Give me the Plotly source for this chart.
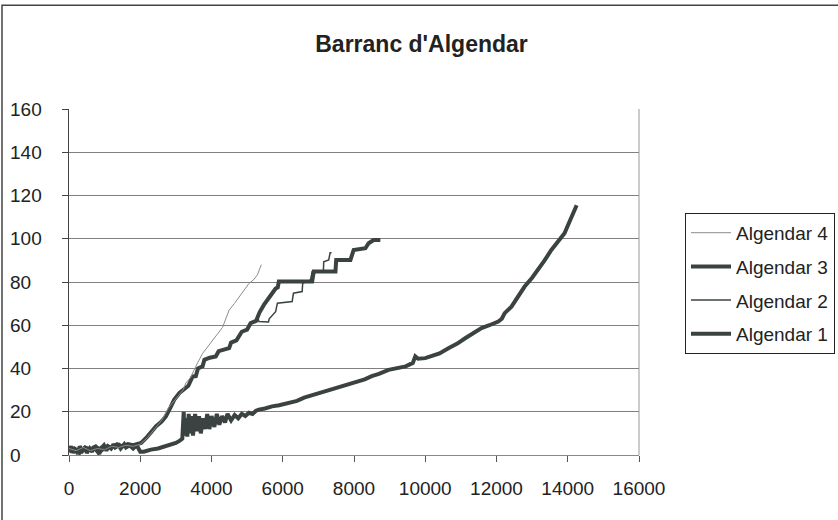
import plotly.graph_objects as go

# ---- data ----
a1_x = [0, 60, 120, 180, 250, 300, 380, 450, 500, 580, 650, 700, 780, 850, 900, 980, 1050, 1100, 1180, 1250,
        1300, 1400, 1450, 1550, 1600, 1700, 1800, 1900, 1950, 2000, 2100, 2300, 2500, 2700, 2900, 3000, 3100, 3180,
        3220, 3240, 3280, 3320, 3360, 3400, 3440, 3480, 3540, 3600, 3650, 3700, 3760, 3820, 3880, 3940, 4000,
        4080, 4150, 4220, 4300, 4380, 4450, 4550, 4650, 4750, 4850, 4950, 5050, 5150, 5250, 5330, 5500, 5700,
        5900, 6170, 6400, 6600, 6800, 7100, 7300, 7600, 7800, 8040, 8300, 8500, 8700, 8970, 9250, 9450, 9580,
        9650, 9720, 9800, 10000, 10180, 10400, 10650, 10900, 11120, 11350, 11580, 11800, 12050, 12150, 12230,
        12420, 12600, 12790, 13000, 13170, 13350, 13540, 13700, 13910, 14000, 14100, 14200, 14250]
a1_y = [2, 4, 1, 3, 0.5, 4, 2, 3.5, 1, 3, 1.5, 4, 2, 0.5, 3, 4.5, 2, 4, 3, 5,
        3.5, 4.5, 3, 5, 3.5, 4.5, 3, 4.5, 3, 1.5, 1.5, 2.5, 3, 4, 5, 5.6, 6.5, 7.5,
        20, 9, 17, 8.5, 19, 10, 18, 9, 19, 11, 18, 10, 17, 12, 19, 12, 18,
        13, 19, 14, 18, 15, 19, 16, 18.5, 17, 19, 18, 19.5, 19, 20.5, 21, 21.5, 22.5,
        23, 24, 25, 26.5, 27.5, 29, 30, 31.5, 32.5, 33.5, 35, 36.5, 37.5, 39.4, 40.2, 41, 42,
        42.5, 45.6, 44.5, 44.8, 45.6, 47, 49.4, 51.5, 54, 56.5, 58.7, 60, 61.7, 63, 65.6,
        68.6, 73, 77.9, 82, 85.6, 90, 94.8, 98, 102.5, 106, 110.1, 113.5, 115.5]

a2_x = [0, 150, 300, 450, 600, 750, 900, 1050, 1200, 1350, 1500, 1650, 1800, 1950, 2025, 2200, 2445, 2600,
        2720, 2850, 2950, 3100, 3250, 3350, 3470, 3560, 3620, 3750, 3800, 3950, 4120, 4200, 4495, 4550, 4700,
        4775, 4850, 5000, 5055, 5100, 5250, 5300, 5330, 5600, 5620, 5800, 5850, 6265, 6300, 6545, 6560, 6780,
        6825, 7140, 7150, 7290, 7330, 7370]
a2_y = [2.5, 1.5, 3, 2, 3.5, 2, 4, 3, 4, 4.5, 3.5, 5, 4, 5, 5.6, 8.5, 13.3, 15.5,
        17.9, 22, 25.5, 28.7, 30.5, 32, 36.3, 36.5, 40, 41, 44, 45, 45.6, 48, 49.4, 52, 53,
        54.8, 57, 58, 59.4, 61, 62, 64, 61.7, 61.5, 63, 66.3, 70.2, 71, 74.8, 75.6, 79.4, 81,
        84.8, 85, 89.4, 90.2, 93.5, 93.5]

a3_x = [0, 150, 300, 450, 600, 750, 900, 1050, 1200, 1350, 1500, 1650, 1800, 1950, 2025, 2200, 2445, 2600,
        2720, 2850, 2950, 3100, 3250, 3350, 3470, 3560, 3620, 3750, 3800, 3950, 4120, 4200, 4495, 4550, 4700,
        4775, 4850, 5000, 5055, 5100, 5250, 5290, 5350, 5470, 5550, 5705, 5800, 5860, 5890, 6825, 6870, 7480,
        7500, 7900, 7990, 8320, 8410, 8550, 8740]
a3_y = [1.5, 3, 1, 3.5, 2.5, 4, 2, 4, 3.5, 5, 4, 5, 4.5, 5.5, 5.6, 8.5, 13.3, 15.5,
        17.9, 22, 25.5, 28.7, 30.5, 32, 36.3, 36.5, 40, 41, 44, 45, 45.6, 48, 49.4, 52, 53,
        54.8, 57, 58, 59.4, 61, 62, 64, 66, 69.4, 71, 74.8, 77, 77.5, 80.2, 80.2, 84.8, 84.8,
        90.2, 90.2, 94.8, 95.6, 97.9, 99.4, 99.4]

a4_x = [0, 200, 400, 600, 800, 1000, 1200, 1400, 1600, 1800, 2000, 2200, 2400, 2600, 2800, 3000, 3200, 3280,
        3420, 3560, 3750, 3845, 4030, 4170, 4310, 4400, 4495, 4640, 4775, 4900, 5055, 5180, 5290, 5350, 5400]
a4_y = [3, 2, 3.5, 2, 3, 2.5, 4, 3.5, 4.5, 4, 5, 8, 12, 16, 22, 26, 30, 33.3,
        36, 41, 47, 49, 53.3, 56, 59, 63, 67, 70, 73.2, 76, 79.4, 81, 83.3, 86, 88]

names = ["Algendar 1", "Algendar 2", "Algendar 3", "Algendar 4"]
x_ticks = [0, 2000, 4000, 6000, 8000, 10000, 12000, 14000, 16000]
y_ticks = [0, 20, 40, 60, 80, 100, 120, 140, 160]

DARK = "#3a4341"
FONT = "Liberation Sans, Arial, sans-serif"

fig = go.Figure()
series = [(a1_x, a1_y, DARK, 4), (a2_x, a2_y, DARK, 1.5), (a3_x, a3_y, DARK, 4), (a4_x, a4_y, "#8c8c8c", 1)]
for i, (xs, ys, col, w) in enumerate(series):
    fig.add_trace(go.Scatter(x=xs, y=ys, mode="lines", name=names[i], legendrank=4 - i,
                             legendgroup=str(i), line=dict(color=col, width=w)))

W, H = 838, 520
L, R, T, B = 69, 639, 109, 455.5
pw, ph = R - L, B - T

def px(x):
    return (x - L) / pw

def py(y):
    return (B - y) / ph

# y tick labels (left-aligned column, placed on the y scale)
annotations = [dict(x=px(8), xref="paper", y=v, yref="y", text=str(v), showarrow=False,
                    xanchor="left", yanchor="middle", font=dict(family=FONT, size=19, color="#222"))
               for v in y_ticks]

fig.update_layout(
    width=W, height=H,
    margin=dict(l=L, r=W - R, t=T, b=H - B, autoexpand=False),
    paper_bgcolor="white", plot_bgcolor="white",
    font=dict(family=FONT, size=19, color="#222"),
    title=dict(text="<b>Barranc d'Algendar</b>", x=0.503, xref="container", xanchor="center",
               y=1 - 44 / H, yref="container", yanchor="middle",
               font=dict(family=FONT, size=23, color="#222")),
    xaxis=dict(range=[0, 16000], tickvals=x_ticks, ticktext=[str(v) for v in x_ticks],
               showgrid=False, zeroline=False, showline=True, linecolor="#888", linewidth=1,
               ticks="outside", ticklen=6, tickcolor="#555", ticklabelstandoff=10,
               tickfont=dict(size=19)),
    yaxis=dict(range=[0, 160], tickvals=y_ticks, showticklabels=False,
               showgrid=True, gridcolor="#808080", gridwidth=1, zeroline=False,
               showline=True, linecolor="#444", linewidth=1,
               ticks="outside", ticklen=6, tickcolor="#444"),
    legend=dict(x=px(685), y=py(213), xanchor="left", yanchor="top",
                bordercolor="#222", borderwidth=1, bgcolor="white",
                traceorder="grouped", tracegroupgap=6, itemwidth=40,
                font=dict(family=FONT, size=19, color="#222")),
    showlegend=True,
    annotations=annotations,
    shapes=[
        dict(type="line", xref="paper", yref="paper", x0=1, x1=1, y0=0, y1=1,
             line=dict(color="#999", width=1)),
        dict(type="rect", xref="paper", yref="paper", x0=px(2), x1=px(900), y0=py(5), y1=py(700),
             line=dict(color="#444", width=1.5), layer="below"),
    ],
)

fig.write_html("out.html", config={"displayModeBar": False},
               post_script="document.body.style.margin='0';")
